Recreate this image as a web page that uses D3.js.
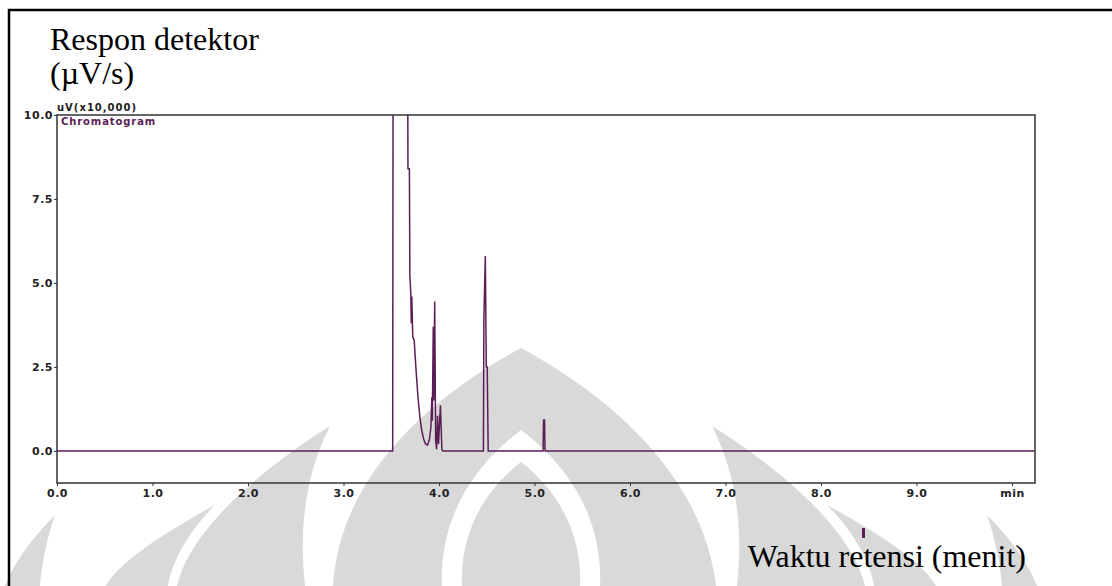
<!DOCTYPE html>
<html>
<head>
<meta charset="utf-8">
<script src="https://cdn.jsdelivr.net/npm/d3@7"></script>
<style>
  body { margin: 0; background: #fff; }
  svg { display: block; }
  .tick text { font-family: "DejaVu Sans", sans-serif; font-weight: bold; font-size: 11px; letter-spacing: 0.5px; fill: #222; }
</style>
</head>
<body>
<div id="chart"></div>
<script>
// chromatogram trace (time in min, response in uV x10,000)
const time = [0, 3.515, 3.52, 3.67, 3.675, 3.69, 3.695, 3.705, 3.71, 3.715, 3.725, 3.74,
  3.76, 3.78, 3.80, 3.82, 3.84, 3.86, 3.88, 3.90, 3.915, 3.925, 3.93, 3.94, 3.945, 3.955,
  3.965, 3.975, 3.985, 3.995, 4.015, 4.03, 4.04, 4.465, 4.47, 4.485, 4.495, 4.505, 4.515,
  5.09, 5.095, 5.105, 5.11, 10.24];
const response = [0, 0, 14, 14, 8.4, 8.4, 5.2, 4.7, 3.8, 4.6, 3.4, 3.3,
  2.4, 1.6, 1.0, 0.6, 0.35, 0.2, 0.18, 0.35, 0.7, 1.6, 0.9, 3.7, 1.5, 4.45,
  0.3, 0.05, 1.05, 0.2, 1.36, 0.05, 0, 0, 3.95, 5.8, 2.5, 2.5, 0,
  0, 0.92, 0.92, 0, 0];

const xTicks = [0, 1, 2, 3, 4, 5, 6, 7, 8, 9, 10];
const xTickLabels = ["0.0", "1.0", "2.0", "3.0", "4.0", "5.0", "6.0", "7.0", "8.0", "9.0", "min"];
const yTicks = [0, 2.5, 5, 7.5, 10];
const yTickLabels = ["0.0", "2.5", "5.0", "7.5", "10.0"];

const width = 1112, height = 586;
const box = { left: 57, top: 115, right: 1035, bottom: 483 };
const lineColor = "#5a1d56";

const svg = d3.select("#chart").append("svg")
  .attr("width", width)
  .attr("height", height);

// watermark in the background (light grey logo)
const wm = svg.append("g").attr("fill", "#d9d9d9");
const wmShapes = [
  ["M333,586 C340,470 440,392 521,348 C602,392 702,470 716,586 Z", "#d9d9d9"],
  ["M521,430 C455,480 440,540 442,586 L600,586 C602,540 587,480 521,430 Z", "#fff"],
  ["M521,462 C472,500 460,550 462,586 L580,586 C582,550 570,500 521,462 Z", "#d9d9d9"],
  ["M330,426 C260,470 190,530 177,586 L305,586 C298,520 308,470 330,426 Z", "#d9d9d9"],
  ["M712,426 C782,470 852,530 865,586 L737,586 C744,520 734,470 712,426 Z", "#d9d9d9"],
  ["M215,505 C170,530 120,560 106,586 L168,586 C172,560 190,530 215,505 Z", "#d9d9d9"],
  ["M827,505 C872,530 922,560 936,586 L874,586 C870,560 852,530 827,505 Z", "#d9d9d9"],
  ["M55,515 C35,535 15,560 5,586 L40,586 C42,560 48,535 55,515 Z", "#d9d9d9"],
  ["M987,515 C1007,535 1027,560 1037,586 L1002,586 C1000,560 994,535 987,515 Z", "#d9d9d9"]
];
wm.selectAll("path")
  .data(wmShapes)
  .join("path")
  .attr("d", d => d[0])
  .attr("fill", d => d[1]);

// outer frame (left and top edges)
svg.append("path")
  .attr("d", `M9,${height} V10 H${width}`)
  .attr("fill", "none")
  .attr("stroke", "#000")
  .attr("stroke-width", 2.5);

// scales
const x = d3.scaleLinear().domain([0, 10]).range([box.left, 1012]);
const y = d3.scaleLinear().domain([0, 10]).range([451, box.top]);

svg.append("defs").append("clipPath").attr("id", "plot-clip")
  .append("rect")
  .attr("x", box.left).attr("y", box.top)
  .attr("width", box.right - box.left).attr("height", box.bottom - box.top);

// trace
const points = time.map((t, i) => [t, response[i]]);
const line = d3.line().x(d => x(d[0])).y(d => y(d[1]));

svg.append("path")
  .datum(points)
  .attr("clip-path", "url(#plot-clip)")
  .attr("fill", "none")
  .attr("stroke", lineColor)
  .attr("stroke-width", 1.5)
  .attr("d", line);

// plot box
svg.append("rect")
  .attr("x", box.left).attr("y", box.top)
  .attr("width", box.right - box.left).attr("height", box.bottom - box.top)
  .attr("fill", "none")
  .attr("stroke", "#333")
  .attr("stroke-width", 1.5);

// axes
const xAxis = d3.axisBottom(x)
  .tickValues(xTicks)
  .tickSize(3)
  .tickFormat((d, i) => xTickLabels[i]);

svg.append("g")
  .attr("transform", `translate(0, ${box.bottom})`)
  .call(xAxis)
  .call(g => g.select(".domain").remove())
  .call(g => g.selectAll(".tick line").attr("stroke", "#333"))
  .call(g => g.selectAll(".tick text").attr("dy", "0.75em"));

const yAxis = d3.axisLeft(y)
  .tickValues(yTicks)
  .tickSize(3)
  .tickPadding(1)
  .tickFormat((d, i) => yTickLabels[i]);

svg.append("g")
  .attr("transform", `translate(${box.left}, 0)`)
  .call(yAxis)
  .call(g => g.select(".domain").remove())
  .call(g => g.selectAll(".tick line").attr("stroke", "#333"));

// small instrument texts
svg.append("text")
  .attr("x", 57).attr("y", 111)
  .attr("font-family", "DejaVu Sans, sans-serif")
  .attr("font-weight", "bold")
  .attr("font-size", 10)
  .attr("letter-spacing", 1)
  .attr("fill", "#222")
  .text("uV(x10,000)");

svg.append("text")
  .attr("x", 61).attr("y", 125)
  .attr("font-family", "DejaVu Sans, sans-serif")
  .attr("font-weight", "bold")
  .attr("font-size", 10)
  .attr("letter-spacing", 0.9)
  .attr("fill", lineColor)
  .text("Chromatogram");

// axis titles
const serif = "Liberation Serif, Times New Roman, serif";
svg.append("text")
  .attr("x", 50).attr("y", 50)
  .attr("font-family", serif)
  .attr("font-size", 32)
  .attr("fill", "#000")
  .text("Respon detektor");

svg.append("text")
  .attr("x", 50).attr("y", 84)
  .attr("font-family", serif)
  .attr("font-size", 32)
  .attr("fill", "#000")
  .text("(µV/s)");

svg.append("text")
  .attr("x", 1026).attr("y", 567)
  .attr("text-anchor", "end")
  .attr("font-family", serif)
  .attr("font-size", 32)
  .attr("fill", "#000")
  .text("Waktu retensi (menit)");

// stray mark below the axis
svg.append("rect")
  .attr("x", 862).attr("y", 528)
  .attr("width", 3).attr("height", 10)
  .attr("fill", lineColor);
</script>
</body>
</html>
